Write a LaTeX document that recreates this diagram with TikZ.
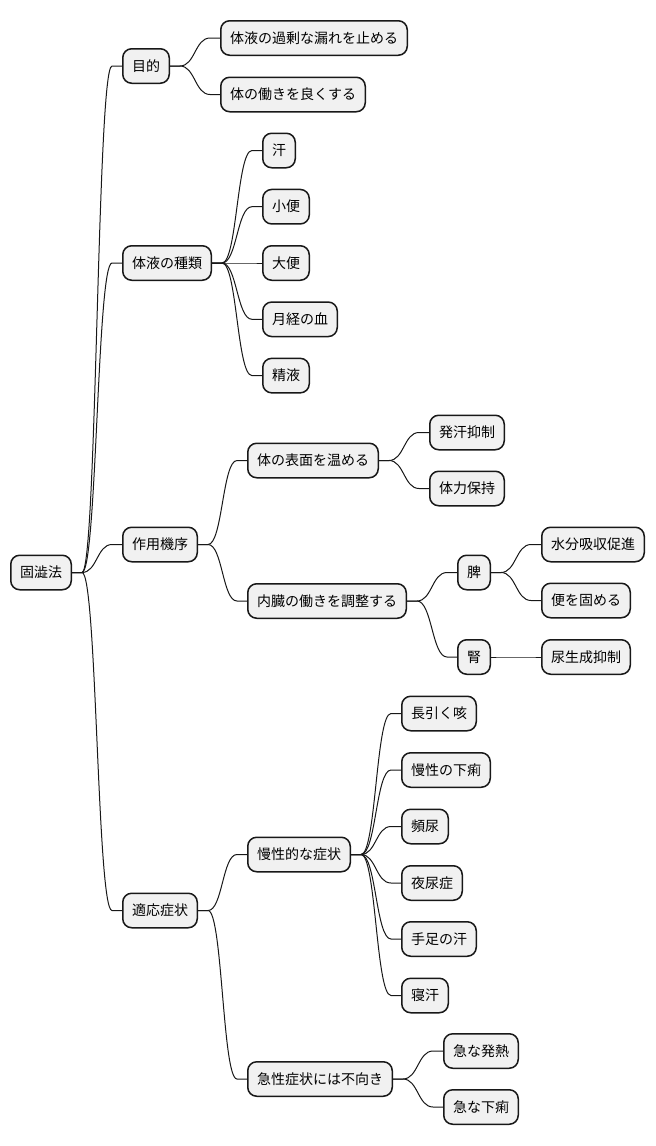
\documentclass[tikz,border=0pt]{standalone}
\usepackage{fontspec}
\newfontfamily\jp{Noto Sans CJK JP}
\usetikzlibrary{calc}
\definecolor{boxfill}{HTML}{F1F1F1}
\definecolor{inkline}{HTML}{181818}

\tikzset{
  box/.style={draw=inkline, fill=boxfill, line width=1.5pt, rounded corners=9pt,
    minimum height=34.5pt, inner xsep=9.25pt, anchor=west,
    font=\jp\fontsize{14}{16}\selectfont},
  link/.style={draw=inkline, line width=1pt}
}

\begin{document}
\begin{tikzpicture}[x=1pt, y=-1pt]

% Canvas
\fill[white] (0,0) rectangle (656,1146);
\useasboundingbox (0,0) rectangle (656,1146);

% Root and first level
\node[box] (root) at (10,572.5) {固澁法};
\node[box] (purpose) at (122,66) {目的};
\node[box] (fluids) at (122,263) {体液の種類};
\node[box] (mech) at (122,544.5) {作用機序};
\node[box] (indic) at (122,910.5) {適応症状};

% Purpose
\node[box] (leak) at (220,38) {体液の過剰な漏れを止める};
\node[box] (func) at (220,94.5) {体の働きを良くする};

% Kinds of fluids
\node[box] (sweat) at (262,150.5) {汗};
\node[box] (urine) at (262,206.7) {小便};
\node[box] (stool) at (262,263) {大便};
\node[box] (menses) at (262,319.3) {月経の血};
\node[box] (semen) at (262,375.6) {精液};

% Mechanism
\node[box] (warm) at (247,460.5) {体の表面を温める};
\node[box] (organ) at (247,601) {内臓の働きを調整する};
\node[box] (antisweat) at (429,432.5) {発汗抑制};
\node[box] (stamina) at (429,488.5) {体力保持};
\node[box] (spleen) at (457,572.5) {脾};
\node[box] (kidney) at (457,657) {腎};
\node[box] (absorb) at (541,544.5) {水分吸収促進};
\node[box] (firm) at (541,600.5) {便を固める};
\node[box] (antiurine) at (541,657) {尿生成抑制};

% Indications
\node[box] (chronic) at (247,854.5) {慢性的な症状};
\node[box] (acute) at (247,1079) {急性症状には不向き};
\node[box] (cough) at (401,713.5) {長引く咳};
\node[box] (diarrhea) at (401,770) {慢性の下痢};
\node[box] (freq) at (401,826.5) {頻尿};
\node[box] (enuresis) at (401,883) {夜尿症};
\node[box] (limbsweat) at (401,939) {手足の汗};
\node[box] (nightsweat) at (401,995.5) {寝汗};
\node[box] (fever) at (443,1051) {急な発熱};
\node[box] (acutediar) at (443,1107) {急な下痢};

% Branches: stub, S-curve, stub
\foreach \a/\b in {root/purpose, root/fluids, root/mech, root/indic,
    purpose/leak, purpose/func,
    fluids/sweat, fluids/urine, fluids/stool, fluids/menses, fluids/semen,
    mech/warm, mech/organ, warm/antisweat, warm/stamina,
    organ/spleen, organ/kidney, spleen/absorb, spleen/firm, kidney/antiurine,
    indic/chronic, indic/acute,
    chronic/cough, chronic/diarrhea, chronic/freq, chronic/enuresis,
    chronic/limbsweat, chronic/nightsweat,
    acute/fever, acute/acutediar} {
  \path (\a.east) ++(10,0) coordinate (p1);
  \path (\b.west) ++(-10,0) coordinate (p2);
  \coordinate (pm) at ($(p1)!0.5!(p2)$);
  \draw[link] (\a.east) -- (p1) .. controls (pm |- p1) and (pm |- p2) .. (p2) -- (\b.west);
}

\end{tikzpicture}
\end{document}
